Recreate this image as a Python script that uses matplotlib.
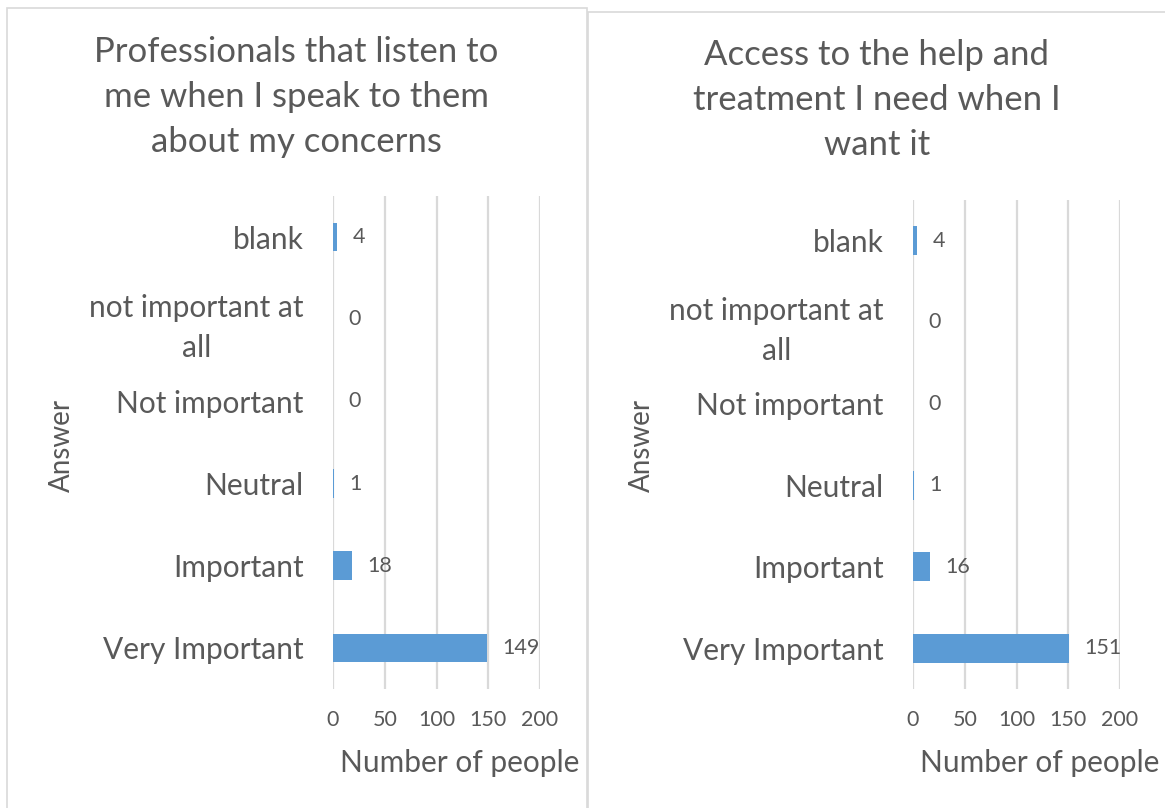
import matplotlib
matplotlib.use("Agg")
import matplotlib.pyplot as plt
from matplotlib.patches import Rectangle

plt.rcParams['font.family'] = ['Lato', 'DejaVu Sans']

categories = ["Very Important", "Important", "Neutral", "Not important",
              "not important at\nall", "blank"]
listen_counts = [149, 18, 1, 0, 0, 4]
access_counts = [151, 16, 1, 0, 0, 4]
titles = ["Professionals that listen to\nme when I speak to them\nabout my concerns",
          "Access to the help and\ntreatment I need when I\nwant it"]
xticks = [0, 50, 100, 150, 200]

grey = "#595959"
bar_color = "#5B9BD5"
grid_color = "#D9D9D9"

W, H = 1165, 808
fig = plt.figure(figsize=(W / 100, H / 100), dpi=100)


def px(x, y):
    # pixel (from top-left) -> figure fraction
    return x / W, 1 - y / H


# panel borders
for (x0, y0, x1, y1) in [(7, 8, 587, 812), (588, 12, 1170, 812)]:
    fig.patches.append(Rectangle(px(x0, y1), (x1 - x0) / W, (y1 - y0) / H,
                                 transform=fig.transFigure, fill=False,
                                 edgecolor=grid_color, linewidth=1.2))

panels = [
    dict(vals=listen_counts, title=titles[0], box=(333, 196, 540, 689),
         tx=296, ty=97, xl=(460, 763), yl=(62, 445)),
    dict(vals=access_counts, title=titles[1], box=(913, 200, 1120, 689),
         tx=877, ty=100, xl=(1040, 763), yl=(642, 445)),
]

for p in panels:
    x0, y0, x1, y1 = p["box"]
    l, b = px(x0, y1)
    ax = fig.add_axes([l, b, (x1 - x0) / W, (y1 - y0) / H])
    pos = list(range(len(categories)))
    bars = ax.barh(pos, p["vals"], height=0.35, color=bar_color, linewidth=0)
    ax.set_xlim(0, 200)
    ax.set_ylim(-0.5, len(categories) - 0.5)
    ax.set_xticks(xticks)
    ax.set_yticks(pos)
    ax.set_yticklabels(categories, multialignment="center", linespacing=1.55)
    ax.tick_params(axis="y", length=0, pad=21, labelsize=21.5, labelcolor=grey)
    ax.tick_params(axis="x", length=0, pad=15, labelsize=15.5, labelcolor=grey)
    ax.grid(axis="x", color=grid_color, linewidth=1.6)
    ax.set_axisbelow(True)
    for s in ax.spines.values():
        s.set_visible(False)
    for bar, v in zip(bars, p["vals"]):
        ax.annotate(str(v), (bar.get_width(), bar.get_y() + bar.get_height() / 2),
                    xytext=(11, 0), textcoords="offset points", va="center",
                    ha="left", fontsize=15.5, color=grey)
    fig.text(*px(p["tx"], p["ty"]), p["title"], ha="center", va="center",
             fontsize=25, color=grey, linespacing=1.5)
    fig.text(*px(*p["xl"]), "Number of people", ha="center", va="center",
             fontsize=21.5, color=grey)
    fig.text(*px(*p["yl"]), "Answer", ha="center", va="center", rotation=90,
             fontsize=20, color=grey)

fig.savefig("out.png", dpi=100, facecolor="white")
